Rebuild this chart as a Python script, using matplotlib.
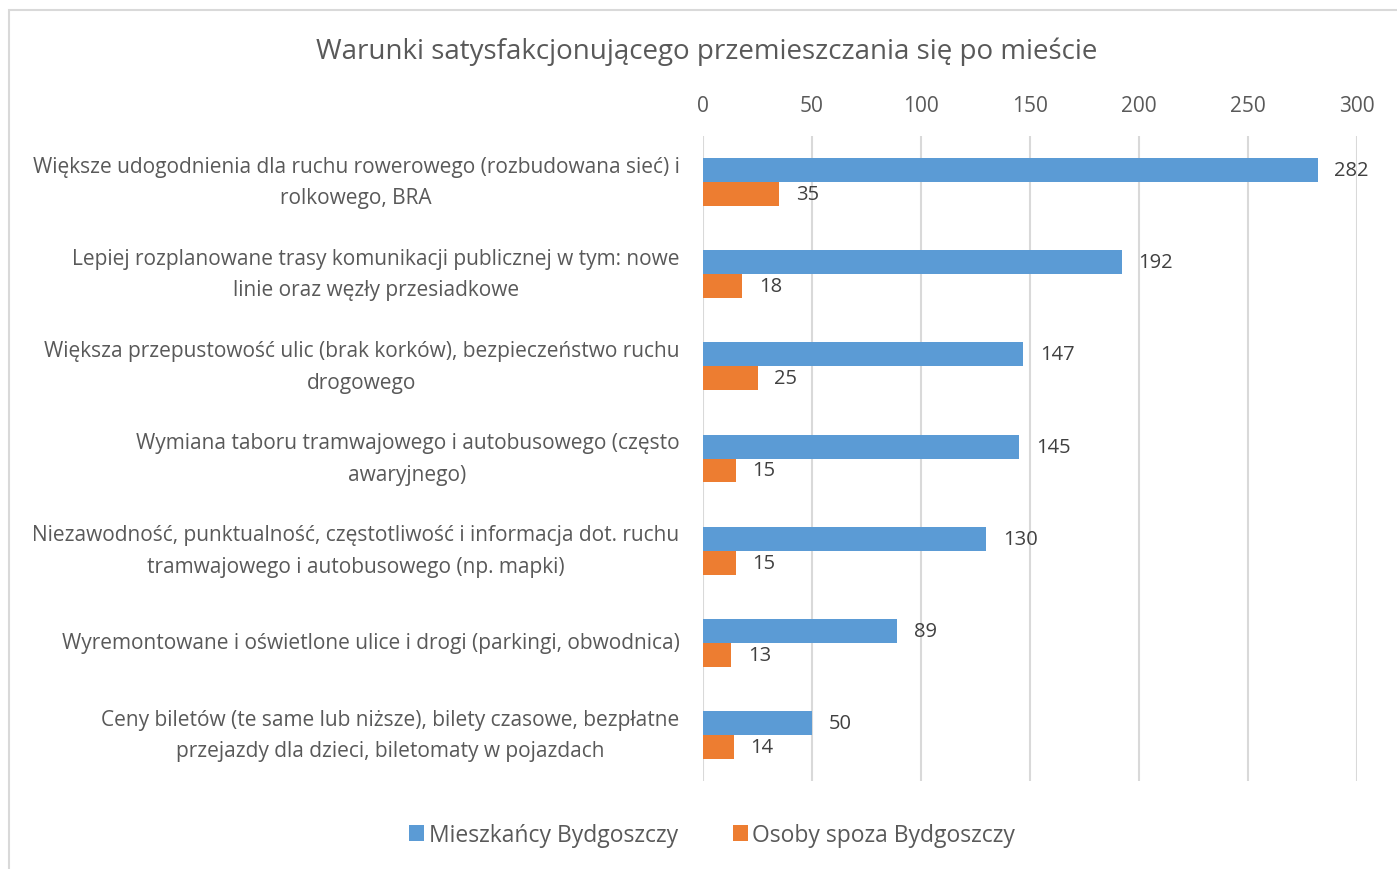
import numpy as np
import matplotlib
matplotlib.use('Agg')
import matplotlib.pyplot as plt
from matplotlib.patches import Rectangle

plt.rcParams['font.family'] = ['Open Sans', 'DejaVu Sans']

# data
categories = [
    'Większe udogodnienia dla ruchu rowerowego (rozbudowana sieć) i\nrolkowego, BRA',
    'Lepiej rozplanowane trasy komunikacji publicznej w tym: nowe\nlinie oraz węzły przesiadkowe',
    'Większa przepustowość ulic (brak korków), bezpieczeństwo ruchu\ndrogowego',
    'Wymiana taboru tramwajowego i autobusowego (często\nawaryjnego)',
    'Niezawodność, punktualność, częstotliwość i informacja dot. ruchu\ntramwajowego i autobusowego (np. mapki)',
    'Wyremontowane i oświetlone ulice i drogi (parkingi, obwodnica)',
    'Ceny biletów (te same lub niższe), bilety czasowe, bezpłatne\nprzejazdy dla dzieci, biletomaty w pojazdach',
]
mieszkancy = [282, 192, 147, 145, 130, 89, 50]
spoza = [35, 18, 25, 15, 15, 13, 14]
series_names = ['Mieszkańcy Bydgoszczy', 'Osoby spoza Bydgoszczy']
xticks = [0, 50, 100, 150, 200, 250, 300]

blue = '#5B9BD5'
orange = '#ED7D31'
txt = '#595959'

fig = plt.figure(figsize=(13.97, 8.7), dpi=100)
ax = fig.add_axes([703/1397, 1 - 782/870, 654/1397, 645/870])

y = np.arange(len(categories))
h = 0.26
b1 = ax.barh(y - h/2, mieszkancy, height=h, color=blue, label=series_names[0], zorder=3)
b2 = ax.barh(y + h/2, spoza, height=h, color=orange, label=series_names[1], zorder=3)

for bars, vals in ((b1, mieszkancy), (b2, spoza)):
    for r, v in zip(bars, vals):
        ax.annotate(str(v), (r.get_width(), r.get_y() + r.get_height()/2),
                    xytext=(12, 0), textcoords='offset points',
                    va='center', ha='left', fontsize=14.5, color='#404040')

ax.set_xlim(0, 300)
ax.set_ylim(len(categories) - 0.5, -0.5)
ax.set_xticks(xticks)
ax.xaxis.tick_top()
ax.tick_params(axis='x', length=0, pad=14.5, labelsize=15, labelcolor=txt)
ax.set_yticks(y)
ax.set_yticklabels(categories, multialignment='center', va='center')
ax.tick_params(axis='y', length=0, pad=17, labelsize=15, labelcolor=txt)
for lbl in ax.get_yticklabels():
    lbl.set_linespacing(1.65)
ax.grid(axis='x', color='#d9d9d9', linewidth=1.5, zorder=0)
for s in ax.spines.values():
    s.set_visible(False)

fig.text(707/1397, 1 - 52/870, 'Warunki satysfakcjonującego przemieszczania się po mieście',
         ha='center', va='center', fontsize=20, color=txt)

leg = fig.legend(handles=[b1, b2], loc='center', bbox_to_anchor=(712/1397, 1 - 836/870),
                 ncol=2, frameon=False, fontsize=16.5, handlelength=0.65, handleheight=0.65,
                 handletextpad=0.2, columnspacing=2.4)
for t in leg.get_texts():
    t.set_color(txt)

# chart border
fig.patches.append(Rectangle((9/1397, -0.1), 1.2, 1.1 - 11/870, transform=fig.transFigure,
                             fill=False, edgecolor='#d9d9d9', linewidth=1.5))

fig.savefig('out.png', dpi=100)
